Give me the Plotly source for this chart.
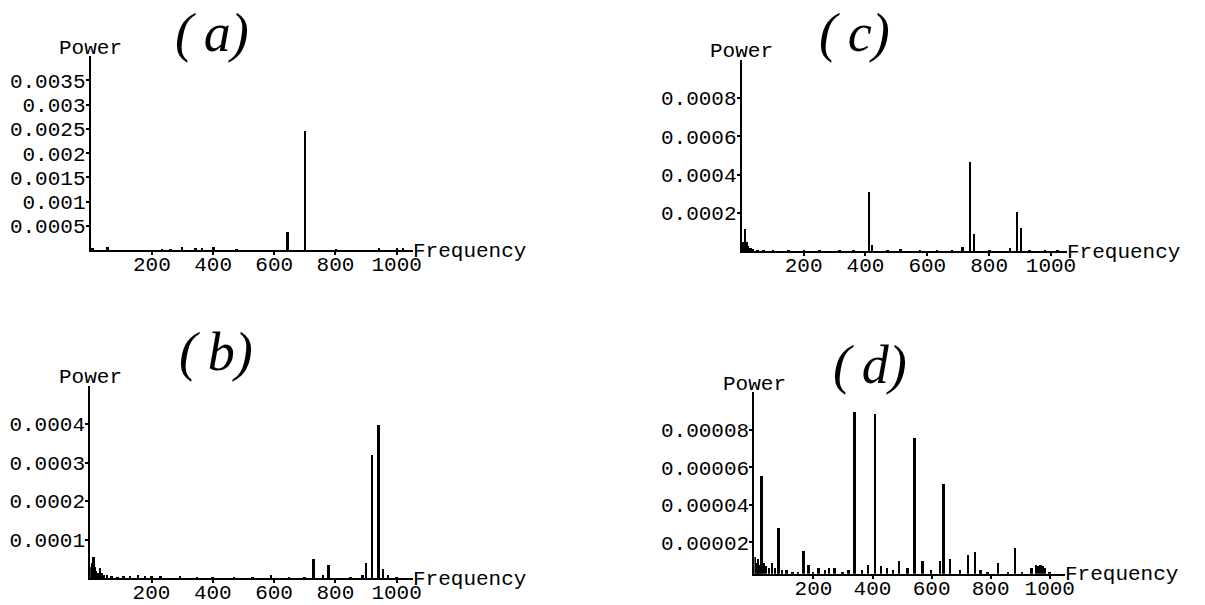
import plotly.graph_objects as go

W, H = 1205, 605

# ---------------- data ----------------
freq_a = [5, 54, 232, 260, 297, 341, 362, 400, 475, 643, 700, 800, 941, 1000, 1020]
pow_a = [0.00004, 0.00007, 0.00003, 0.00003, 0.00007, 0.00005, 0.00004, 0.00006,
         0.00003, 0.00038, 0.00246, 0.00003, 0.00005, 0.00004, 0.00005]

freq_b = [3, 8, 12, 16, 20, 25, 32, 38, 45, 55, 70, 90, 110, 130, 156, 180, 200, 230,
          293, 350, 400, 470, 530, 591, 650, 700, 730, 760, 778, 850, 890, 900, 921,
          941, 956, 973, 1000]
pow_b = [0.00003, 0.00004, 0.000056, 0.00003, 0.00002, 0.000015, 0.000027, 0.000015,
         0.00001, 0.000008, 0.000006, 0.000005, 0.000006, 0.000006, 0.000008, 0.000006,
         0.000007, 0.000006, 0.000006, 0.000004, 0.000005, 0.000004, 0.000005, 0.000008,
         0.000005, 0.000005, 0.000052, 0.000008, 0.000034, 0.000005, 0.000008, 0.000041,
         0.000321, 0.0004, 0.000026, 0.000008, 0.000004]

freq_c = [3, 9, 14, 20, 28, 36, 50, 70, 100, 150, 200, 250, 315, 360, 410, 420, 470,
          512, 576, 630, 680, 713, 738, 750, 800, 866, 890, 902, 930, 980, 1020]
pow_c = [0.00005, 0.000118, 0.00005, 0.00003, 0.00002, 0.000015, 0.00001, 0.000008,
         0.000007, 0.000007, 0.000006, 0.000006, 0.00001, 0.000006, 0.000312, 0.000035,
         0.000006, 0.000012, 0.00001, 0.000008, 0.000007, 0.000025, 0.000468, 0.0000925,
         0.000008, 0.00002, 0.000205, 0.000122, 0.000008, 0.000006, 0.000005]

freq_d = [3, 8, 13, 18, 25, 32, 40, 50, 62, 72, 83, 95, 110, 130, 150, 167, 184, 200,
          218, 240, 255, 273, 300, 320, 340, 365, 387, 409, 429, 450, 470, 492, 520, 544,
          570, 600, 629, 642, 664, 698, 725, 748, 767, 790, 826, 859, 884, 907, 940, 955,
          962, 970, 978, 985, 1000]
pow_d = [0.000012, 0.000009, 0.000011, 0.000008, 0.0000551, 0.000009, 0.000007, 0.000006,
         0.000009, 0.000006, 0.0000274, 0.000005, 0.000005, 0.000004, 0.000004, 0.0000152,
         0.000008, 0.000004, 0.000006, 0.000005, 0.000006, 0.000006, 0.000004, 0.000005,
         0.0000896, 0.000005, 0.000008, 0.0000885, 0.000007, 0.000006, 0.000005, 0.00001,
         0.000006, 0.0000754, 0.00001, 0.000005, 0.00001, 0.000051, 0.000011, 0.000005,
         0.000013, 0.0000145, 0.000005, 0.000004, 0.000009, 0.000004, 0.000017, 0.000004,
         0.000006, 0.000008, 0.000007, 0.000008, 0.000007, 0.000006, 0.000004]

x_tickvals = [200, 400, 600, 800, 1000]
x_ticktext = ["200", "400", "600", "800", "1000"]

yt_a = [0.0005, 0.001, 0.0015, 0.002, 0.0025, 0.003, 0.0035]
yl_a = ["0.0005", "0.001", "0.0015", "0.002", "0.0025", "0.003", "0.0035"]
yt_b = [0.0001, 0.0002, 0.0003, 0.0004]
yl_b = ["0.0001", "0.0002", "0.0003", "0.0004"]
yt_c = [0.0002, 0.0004, 0.0006, 0.0008]
yl_c = ["0.0002", "0.0004", "0.0006", "0.0008"]
yt_d = [0.00002, 0.00004, 0.00006, 0.00008]
yl_d = ["0.00002", "0.00004", "0.00006", "0.00008"]

panel_labels = ["(\u2009a)", "(\u2009b)", "(\u2009c)", "(\u2009d)"]
x_title = "Frequency"
y_title = "Power"

# ---------------- layout geometry (pixels) ----------------
panels = [
    dict(f=freq_a, p=pow_a, yt=yt_a, yl=yl_a, px=(91.5, 416), py=(251.5, 56.3),
         yr=(0, 0.004), lab=(214, 33)),
    dict(f=freq_b, p=pow_b, yt=yt_b, yl=yl_b, px=(91, 416), py=(581, 387.5),
         yr=(0, 0.0005), lab=(218, 354)),
    dict(f=freq_c, p=pow_c, yt=yt_c, yl=yl_c, px=(748, 1076), py=(252.5, 60),
         yr=(0, 0.001), lab=(862, 33)),
    dict(f=freq_d, p=pow_d, yt=yt_d, yl=yl_d, px=(760.7, 1074), py=(576.7, 394.3),
         yr=(0.0000032, 0.0001), lab=(877, 367)),
]
XMAX = 1052

mono = "Liberation Mono, Courier New, monospace"
FS = 21
fig = go.Figure()
annotations = []

for i, pn in enumerate(panels, start=1):
    xa = "x" if i == 1 else f"x{i}"
    ya = "y" if i == 1 else f"y{i}"
    fig.add_trace(go.Bar(x=pn["f"], y=pn["p"], width=8, marker=dict(color="black", line=dict(width=0)),
                         xaxis=xa, yaxis=ya, showlegend=False))
    xkey = "xaxis" if i == 1 else f"xaxis{i}"
    ykey = "yaxis" if i == 1 else f"yaxis{i}"
    fig.layout[xkey] = dict(
        domain=[pn["px"][0] / W, pn["px"][1] / W], anchor=ya, range=[0, XMAX],
        showgrid=False, zeroline=False, showline=True, linecolor="black", linewidth=2,
        ticks="outside", ticklen=3, tickwidth=1.5, tickcolor="black", ticklabelstandoff=-9,
        tickvals=x_tickvals, ticktext=x_ticktext,
        tickfont=dict(family=mono, size=FS, color="black"), fixedrange=True,
    )
    fig.layout[ykey] = dict(
        domain=[1 - pn["py"][0] / H, 1 - pn["py"][1] / H], anchor=xa, range=list(pn["yr"]),
        showgrid=False, zeroline=False, showline=True, linecolor="black", linewidth=2,
        ticks="outside", ticklen=3, tickwidth=1.5, tickcolor="black", ticklabelstandoff=-4,
        tickvals=pn["yt"], ticktext=pn["yl"],
        tickfont=dict(family=mono, size=FS, color="black"), fixedrange=True,
    )
    annotations.append(dict(text=y_title, xref=xa, yref=ya, x=0, y=pn["yr"][1],
                            xanchor="center", yanchor="middle", showarrow=False, yshift=8,
                            font=dict(family=mono, size=FS, color="black")))
    annotations.append(dict(text=x_title, xref=xa, yref=ya, x=XMAX, y=pn["yr"][0],
                            xanchor="left", yanchor="middle", showarrow=False, xshift=-2, yshift=-1,
                            font=dict(family=mono, size=FS, color="black")))
    annotations.append(dict(text=panel_labels[i - 1], xref="paper", yref="paper",
                            x=pn["lab"][0] / W, y=1 - pn["lab"][1] / H,
                            xanchor="center", yanchor="middle", showarrow=False,
                            font=dict(family="Liberation Serif, Times New Roman, serif", size=54,
                                      color="black", style="italic")))

fig.update_layout(width=W, height=H, margin=dict(l=0, r=0, t=0, b=0),
                  paper_bgcolor="white", plot_bgcolor="white", bargap=0,
                  annotations=annotations)

fig.write_html("out.html")
